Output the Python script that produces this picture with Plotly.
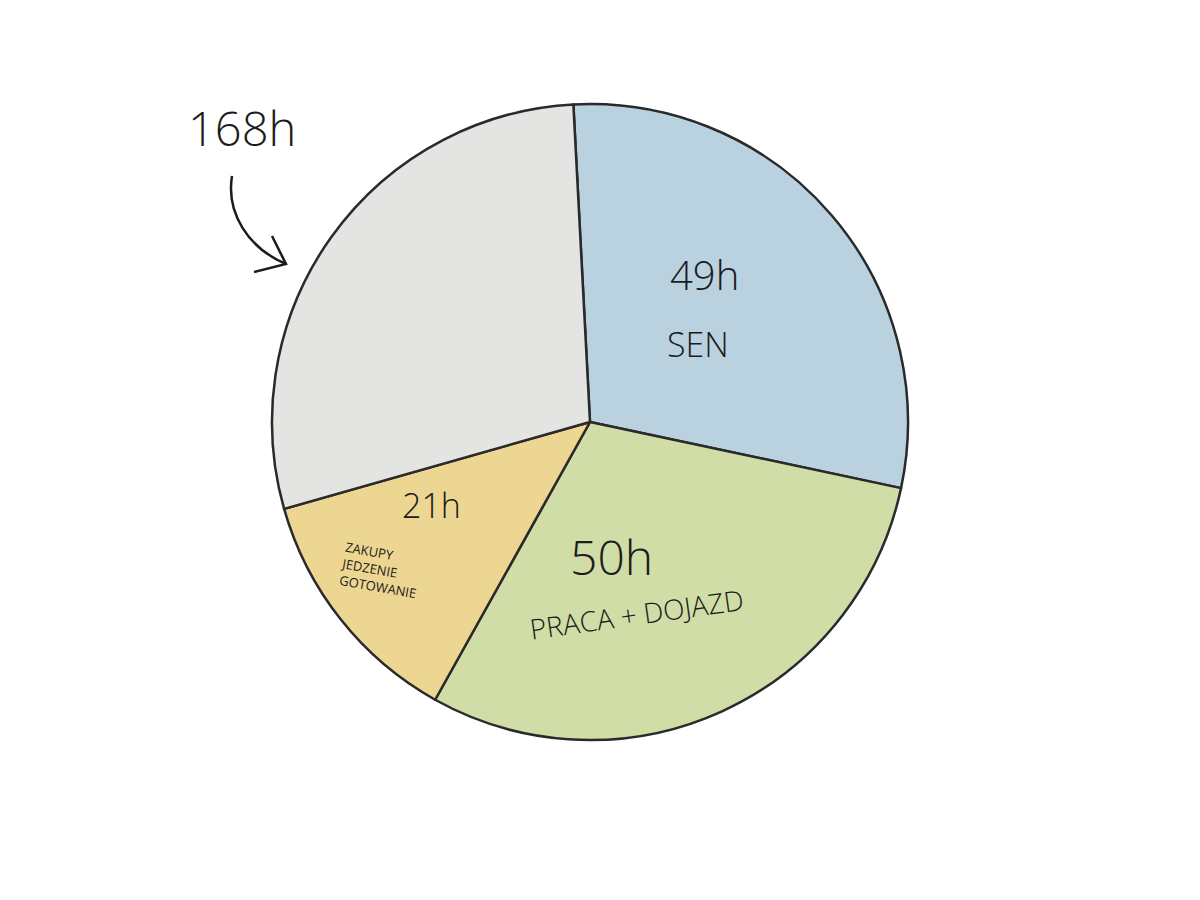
import plotly.graph_objects as go

# Data: hours in a week (168h total)
categories = ["SEN", "PRACA + DOJAZD", "ZAKUPY JEDZENIE GOTOWANIE", "pozostałe"]
hours = [49, 50, 21, 48]
colors = ["#BAD1DF", "#D0DDA6", "#EDD692", "#E4E4E2"]
total_label = "168h"
value_labels = ["49h", "50h", "21h"]

FONT = "Open Sans"
INK = "#1c1c1c"

CX, CY, R = 582, 414, 318

fig = go.Figure()
fig.add_trace(go.Pie(
    labels=categories,
    values=hours,
    sort=False,
    direction="clockwise",
    rotation=-3,
    marker=dict(colors=colors, line=dict(color="#2a2a2a", width=2.5)),
    textinfo="none",
    hoverinfo="label+value",
    showlegend=False,
    domain=dict(x=[(CX - R) / 1200, (CX + R) / 1200],
                y=[(900 - CY - R) / 900, (900 - CY + R) / 900]),
))

annots = [
    dict(text=total_label, x=234, y=120, size=47),
    dict(text=value_labels[0], x=696, y=266, size=40),
    dict(text=categories[0], x=690, y=336, size=34),
    dict(text=value_labels[1], x=603, y=548, size=48),
    dict(text=categories[1], x=628, y=606, size=28, angle=-8),
    dict(text=value_labels[2], x=423, y=497, size=34),
    dict(text="ZAKUPY<br>JEDZENIE<br>GOTOWANIE", x=372, y=562, size=13, angle=10, w=500),
]
for a in annots:
    fig.add_annotation(
        x=a["x"], y=a["y"], xref="x", yref="y", text=a["text"], showarrow=False,
        textangle=a.get("angle", 0),
        font=dict(family=FONT, size=a["size"], color=INK, weight=a.get("w", 300)),
        xanchor="center", yanchor="middle", align="left",
    )

# curved arrow from "168h" to the grey slice
fig.add_shape(type="path", xref="x", yref="y",
              path="M 224,168 C 218,205 240,240 278,256",
              line=dict(color=INK, width=2.5))
fig.add_shape(type="path", xref="x", yref="y",
              path="M 264,228 L 278,256 L 246,264",
              line=dict(color=INK, width=2.5))

fig.update_layout(
    width=1200, height=900,
    margin=dict(l=0, r=0, t=0, b=0),
    paper_bgcolor="white", plot_bgcolor="white",
    xaxis=dict(range=[0, 1200], visible=False, fixedrange=True),
    yaxis=dict(range=[900, 0], visible=False, fixedrange=True),
)

fig.write_html("out.html")
